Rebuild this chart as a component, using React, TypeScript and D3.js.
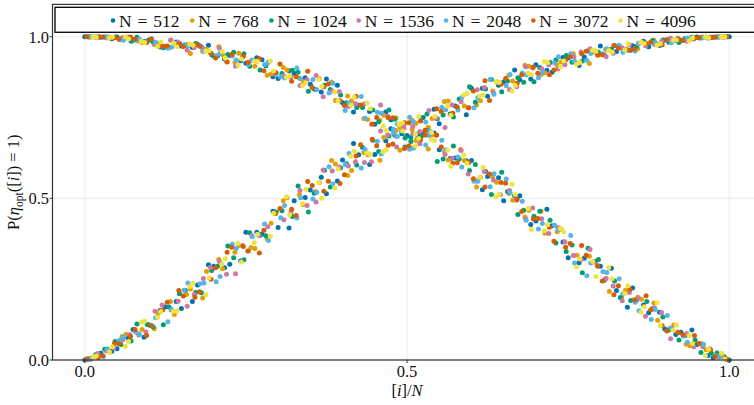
import React from "react";
import * as d3 from "d3";

// ---------- data ----------
const X_512 = [0.000, 0.025, 0.050, 0.075, 0.100, 0.125, 0.150, 0.175, 0.200, 0.225, 0.250, 0.275, 0.300, 0.325, 0.350, 0.375, 0.400, 0.425, 0.450, 0.475, 0.500, 0.525, 0.550, 0.575, 0.600, 0.625, 0.650, 0.675, 0.700, 0.725, 0.750, 0.775, 0.800, 0.825, 0.850, 0.875, 0.900, 0.925, 0.950, 0.975, 1.000];
const UP_512 = [0.000, 0.021, 0.035, 0.094, 0.108, 0.164, 0.159, 0.232, 0.290, 0.296, 0.395, 0.390, 0.410, 0.493, 0.526, 0.514, 0.619, 0.635, 0.636, 0.715, 0.694, 0.750, 0.731, 0.786, 0.841, 0.816, 0.860, 0.867, 0.913, 0.890, 0.934, 0.937, 0.971, 0.954, 0.972, 0.969, 0.989, 0.989, 0.999, 0.998, 1.000];
const DN_512 = [1.000, 0.998, 0.999, 0.989, 0.990, 0.969, 0.971, 0.977, 0.940, 0.942, 0.918, 0.929, 0.871, 0.887, 0.853, 0.869, 0.796, 0.788, 0.729, 0.743, 0.694, 0.699, 0.650, 0.625, 0.617, 0.568, 0.493, 0.508, 0.430, 0.415, 0.316, 0.315, 0.290, 0.215, 0.223, 0.146, 0.096, 0.086, 0.048, 0.007, 0.000];
const X_512B = [0.017, 0.042, 0.067, 0.092, 0.117, 0.142, 0.167, 0.192, 0.217, 0.242, 0.267, 0.292, 0.317, 0.342, 0.367, 0.392, 0.417, 0.442, 0.467, 0.492, 0.517, 0.542, 0.567, 0.592, 0.617, 0.642, 0.667, 0.692, 0.717, 0.742, 0.767, 0.792, 0.817, 0.842, 0.867, 0.892, 0.917, 0.942, 0.967, 0.992];
const UP_512B = [0.016, 0.027, 0.068, 0.070, 0.153, 0.181, 0.181, 0.295, 0.285, 0.306, 0.395, 0.460, 0.408, 0.503, 0.565, 0.554, 0.670, 0.605, 0.678, 0.708, 0.689, 0.776, 0.761, 0.759, 0.841, 0.850, 0.897, 0.869, 0.896, 0.936, 0.911, 0.954, 0.961, 0.959, 0.986, 0.973, 0.988, 0.998, 0.996, 0.999];
const DN_512B = [0.999, 0.994, 0.998, 0.985, 0.968, 0.984, 0.967, 0.974, 0.931, 0.926, 0.935, 0.876, 0.895, 0.873, 0.829, 0.850, 0.767, 0.769, 0.767, 0.700, 0.699, 0.702, 0.623, 0.616, 0.527, 0.564, 0.509, 0.419, 0.466, 0.365, 0.301, 0.305, 0.284, 0.163, 0.170, 0.148, 0.079, 0.093, 0.014, 0.010];

const X_768 = [0.014, 0.039, 0.064, 0.089, 0.114, 0.139, 0.164, 0.189, 0.214, 0.239, 0.264, 0.289, 0.314, 0.339, 0.364, 0.389, 0.414, 0.439, 0.464, 0.489, 0.514, 0.539, 0.564, 0.589, 0.614, 0.639, 0.664, 0.689, 0.714, 0.739, 0.764, 0.789, 0.814, 0.839, 0.864, 0.889, 0.914, 0.939, 0.964, 0.989];
const UP_768 = [0.011, 0.025, 0.080, 0.094, 0.145, 0.141, 0.220, 0.274, 0.282, 0.354, 0.345, 0.423, 0.502, 0.480, 0.549, 0.606, 0.586, 0.635, 0.688, 0.649, 0.732, 0.747, 0.801, 0.786, 0.802, 0.861, 0.863, 0.909, 0.888, 0.922, 0.917, 0.953, 0.958, 0.962, 0.984, 0.977, 0.990, 0.993, 0.999, 0.999];
const DN_768 = [0.999, 0.998, 0.998, 0.982, 0.979, 0.980, 0.948, 0.961, 0.944, 0.949, 0.909, 0.885, 0.897, 0.861, 0.870, 0.803, 0.802, 0.744, 0.757, 0.720, 0.679, 0.697, 0.619, 0.617, 0.565, 0.550, 0.494, 0.463, 0.392, 0.405, 0.324, 0.303, 0.212, 0.216, 0.188, 0.123, 0.108, 0.044, 0.032, 0.015];
const X_768B = [0.008, 0.033, 0.058, 0.083, 0.108, 0.133, 0.158, 0.183, 0.208, 0.233, 0.258, 0.283, 0.308, 0.333, 0.358, 0.383, 0.408, 0.433, 0.458, 0.483, 0.508, 0.533, 0.558, 0.583, 0.608, 0.633, 0.658, 0.683, 0.708, 0.733, 0.758, 0.783, 0.808, 0.833, 0.858, 0.883, 0.908, 0.933, 0.958, 0.983];
const UP_768B = [0.002, 0.030, 0.073, 0.082, 0.097, 0.181, 0.203, 0.192, 0.311, 0.333, 0.348, 0.374, 0.493, 0.511, 0.521, 0.617, 0.571, 0.642, 0.618, 0.710, 0.713, 0.720, 0.800, 0.805, 0.789, 0.832, 0.881, 0.912, 0.883, 0.912, 0.947, 0.917, 0.961, 0.966, 0.963, 0.989, 0.990, 0.988, 0.999, 0.999];
const DN_768B = [0.998, 0.999, 0.997, 0.987, 0.975, 0.989, 0.976, 0.955, 0.969, 0.921, 0.926, 0.881, 0.905, 0.872, 0.836, 0.860, 0.817, 0.747, 0.742, 0.749, 0.742, 0.653, 0.645, 0.651, 0.535, 0.567, 0.515, 0.442, 0.460, 0.397, 0.323, 0.321, 0.252, 0.196, 0.194, 0.176, 0.098, 0.049, 0.050, 0.016];

const X_1024 = [0.006, 0.031, 0.056, 0.081, 0.106, 0.131, 0.156, 0.181, 0.206, 0.231, 0.256, 0.281, 0.306, 0.331, 0.356, 0.381, 0.406, 0.431, 0.456, 0.481, 0.506, 0.531, 0.556, 0.581, 0.606, 0.631, 0.656, 0.681, 0.706, 0.731, 0.756, 0.781, 0.806, 0.831, 0.856, 0.881, 0.906, 0.931, 0.956, 0.981];
const UP_1024 = [0.004, 0.033, 0.048, 0.111, 0.103, 0.164, 0.216, 0.208, 0.290, 0.316, 0.394, 0.384, 0.462, 0.538, 0.516, 0.535, 0.607, 0.657, 0.645, 0.695, 0.676, 0.761, 0.758, 0.807, 0.797, 0.868, 0.863, 0.859, 0.905, 0.928, 0.921, 0.957, 0.944, 0.966, 0.970, 0.988, 0.983, 0.994, 0.996, 0.999];
const DN_1024 = [1.000, 0.999, 0.992, 0.998, 0.984, 0.967, 0.972, 0.968, 0.940, 0.952, 0.909, 0.910, 0.886, 0.890, 0.838, 0.837, 0.796, 0.781, 0.737, 0.745, 0.688, 0.711, 0.622, 0.622, 0.605, 0.512, 0.521, 0.463, 0.460, 0.362, 0.356, 0.346, 0.247, 0.193, 0.185, 0.159, 0.093, 0.075, 0.023, 0.022];
const X_1024B = [0.022, 0.047, 0.072, 0.097, 0.122, 0.147, 0.172, 0.197, 0.222, 0.247, 0.272, 0.297, 0.322, 0.347, 0.372, 0.397, 0.422, 0.447, 0.472, 0.497, 0.522, 0.547, 0.572, 0.597, 0.622, 0.647, 0.672, 0.697, 0.722, 0.747, 0.772, 0.797, 0.822, 0.847, 0.872, 0.897, 0.922, 0.947, 0.972, 0.997];
const UP_1024B = [0.018, 0.057, 0.059, 0.110, 0.109, 0.205, 0.209, 0.277, 0.353, 0.310, 0.386, 0.458, 0.444, 0.458, 0.587, 0.595, 0.603, 0.680, 0.693, 0.659, 0.748, 0.746, 0.752, 0.845, 0.838, 0.830, 0.873, 0.861, 0.920, 0.942, 0.925, 0.952, 0.973, 0.958, 0.972, 0.990, 0.982, 0.997, 0.998, 1.000];
const DN_1024B = [1.000, 0.999, 0.986, 0.987, 0.966, 0.980, 0.979, 0.944, 0.945, 0.947, 0.897, 0.888, 0.896, 0.831, 0.850, 0.820, 0.781, 0.773, 0.773, 0.687, 0.691, 0.614, 0.662, 0.586, 0.583, 0.581, 0.450, 0.445, 0.432, 0.336, 0.270, 0.311, 0.244, 0.184, 0.181, 0.133, 0.062, 0.062, 0.021, 0.001];

const X_1536 = [0.020, 0.045, 0.070, 0.095, 0.120, 0.145, 0.170, 0.195, 0.220, 0.245, 0.270, 0.295, 0.320, 0.345, 0.370, 0.395, 0.420, 0.445, 0.470, 0.495, 0.520, 0.545, 0.570, 0.595, 0.620, 0.645, 0.670, 0.695, 0.720, 0.745, 0.770, 0.795, 0.820, 0.845, 0.870, 0.895, 0.920, 0.945, 0.970, 0.995];
const UP_1536 = [0.020, 0.037, 0.079, 0.087, 0.170, 0.182, 0.203, 0.286, 0.265, 0.354, 0.386, 0.454, 0.458, 0.478, 0.588, 0.597, 0.613, 0.613, 0.696, 0.726, 0.707, 0.748, 0.789, 0.780, 0.843, 0.855, 0.845, 0.903, 0.913, 0.913, 0.953, 0.945, 0.949, 0.975, 0.972, 0.986, 0.995, 0.993, 0.998, 1.000];
const DN_1536 = [0.999, 0.997, 0.995, 0.984, 0.971, 0.983, 0.967, 0.950, 0.924, 0.939, 0.929, 0.885, 0.876, 0.867, 0.814, 0.830, 0.793, 0.729, 0.754, 0.717, 0.669, 0.695, 0.624, 0.575, 0.583, 0.511, 0.494, 0.470, 0.391, 0.366, 0.311, 0.294, 0.229, 0.209, 0.135, 0.147, 0.087, 0.041, 0.035, 0.002];
const X_1536B = [0.009, 0.034, 0.059, 0.084, 0.109, 0.134, 0.159, 0.184, 0.209, 0.234, 0.259, 0.284, 0.309, 0.334, 0.359, 0.384, 0.409, 0.434, 0.459, 0.484, 0.509, 0.534, 0.559, 0.584, 0.609, 0.634, 0.659, 0.684, 0.709, 0.734, 0.759, 0.784, 0.809, 0.834, 0.859, 0.884, 0.909, 0.934, 0.959, 0.984];
const UP_1536B = [0.002, 0.028, 0.063, 0.077, 0.151, 0.155, 0.166, 0.252, 0.305, 0.267, 0.385, 0.412, 0.434, 0.524, 0.489, 0.585, 0.600, 0.611, 0.708, 0.659, 0.722, 0.772, 0.719, 0.799, 0.836, 0.827, 0.837, 0.907, 0.901, 0.900, 0.938, 0.963, 0.938, 0.964, 0.980, 0.976, 0.995, 0.986, 0.998, 0.999];
const DN_1536B = [1.000, 0.996, 0.997, 0.990, 0.977, 0.990, 0.958, 0.963, 0.964, 0.909, 0.926, 0.920, 0.879, 0.849, 0.880, 0.832, 0.784, 0.793, 0.789, 0.691, 0.700, 0.695, 0.636, 0.648, 0.554, 0.557, 0.524, 0.436, 0.437, 0.410, 0.323, 0.342, 0.252, 0.183, 0.192, 0.162, 0.066, 0.082, 0.041, 0.010];

const X_2048 = [0.010, 0.035, 0.060, 0.085, 0.110, 0.135, 0.160, 0.185, 0.210, 0.235, 0.260, 0.285, 0.310, 0.335, 0.360, 0.385, 0.410, 0.435, 0.460, 0.485, 0.510, 0.535, 0.560, 0.585, 0.610, 0.635, 0.660, 0.685, 0.710, 0.735, 0.760, 0.785, 0.810, 0.835, 0.860, 0.885, 0.910, 0.935, 0.960, 0.985];
const UP_2048 = [0.006, 0.035, 0.072, 0.079, 0.131, 0.156, 0.238, 0.238, 0.258, 0.346, 0.381, 0.370, 0.478, 0.502, 0.518, 0.545, 0.639, 0.651, 0.637, 0.691, 0.737, 0.708, 0.774, 0.812, 0.811, 0.822, 0.883, 0.882, 0.888, 0.938, 0.924, 0.948, 0.963, 0.952, 0.978, 0.982, 0.981, 0.996, 0.997, 0.999];
const DN_2048 = [1.000, 0.999, 0.989, 0.992, 0.983, 0.968, 0.972, 0.955, 0.949, 0.928, 0.928, 0.922, 0.872, 0.870, 0.837, 0.856, 0.794, 0.748, 0.763, 0.730, 0.655, 0.694, 0.650, 0.597, 0.553, 0.576, 0.517, 0.432, 0.422, 0.402, 0.300, 0.300, 0.271, 0.204, 0.152, 0.156, 0.099, 0.055, 0.048, 0.009];
const X_2048B = [0.004, 0.029, 0.054, 0.079, 0.104, 0.129, 0.154, 0.179, 0.204, 0.229, 0.254, 0.279, 0.304, 0.329, 0.354, 0.379, 0.404, 0.429, 0.454, 0.479, 0.504, 0.529, 0.554, 0.579, 0.604, 0.629, 0.654, 0.679, 0.704, 0.729, 0.754, 0.779, 0.804, 0.829, 0.854, 0.879, 0.904, 0.929, 0.954, 0.979];
const UP_2048B = [0.001, 0.011, 0.061, 0.087, 0.107, 0.118, 0.216, 0.236, 0.242, 0.358, 0.337, 0.421, 0.440, 0.439, 0.498, 0.598, 0.605, 0.594, 0.677, 0.713, 0.652, 0.736, 0.782, 0.773, 0.780, 0.868, 0.848, 0.888, 0.873, 0.919, 0.947, 0.927, 0.947, 0.974, 0.956, 0.982, 0.991, 0.988, 0.996, 0.999];
const DN_2048B = [1.000, 0.999, 0.991, 0.989, 0.994, 0.964, 0.975, 0.972, 0.942, 0.940, 0.914, 0.914, 0.876, 0.903, 0.868, 0.826, 0.772, 0.815, 0.766, 0.703, 0.751, 0.665, 0.680, 0.628, 0.553, 0.536, 0.560, 0.491, 0.405, 0.417, 0.385, 0.261, 0.273, 0.251, 0.179, 0.125, 0.138, 0.074, 0.050, 0.014];

const X_3072 = [0.003, 0.028, 0.053, 0.078, 0.103, 0.128, 0.153, 0.178, 0.203, 0.228, 0.253, 0.278, 0.303, 0.328, 0.353, 0.378, 0.403, 0.428, 0.453, 0.478, 0.503, 0.528, 0.553, 0.578, 0.603, 0.628, 0.653, 0.678, 0.703, 0.728, 0.753, 0.778, 0.803, 0.828, 0.853, 0.878, 0.903, 0.928, 0.953, 0.978];
const UP_3072 = [0.003, 0.013, 0.050, 0.094, 0.106, 0.179, 0.198, 0.211, 0.285, 0.349, 0.337, 0.401, 0.469, 0.447, 0.540, 0.553, 0.573, 0.666, 0.663, 0.668, 0.734, 0.711, 0.769, 0.783, 0.832, 0.803, 0.871, 0.882, 0.887, 0.897, 0.938, 0.955, 0.944, 0.964, 0.963, 0.983, 0.991, 0.988, 0.997, 0.999];
const DN_3072 = [1.000, 0.999, 0.993, 0.993, 0.993, 0.971, 0.970, 0.971, 0.934, 0.945, 0.920, 0.895, 0.916, 0.876, 0.843, 0.854, 0.787, 0.789, 0.750, 0.749, 0.662, 0.696, 0.659, 0.610, 0.561, 0.575, 0.547, 0.459, 0.438, 0.367, 0.360, 0.324, 0.244, 0.230, 0.186, 0.155, 0.090, 0.078, 0.051, 0.011];
const X_3072B = [0.021, 0.046, 0.071, 0.096, 0.121, 0.146, 0.171, 0.196, 0.221, 0.246, 0.271, 0.296, 0.321, 0.346, 0.371, 0.396, 0.421, 0.446, 0.471, 0.496, 0.521, 0.546, 0.571, 0.596, 0.621, 0.646, 0.671, 0.696, 0.721, 0.746, 0.771, 0.796, 0.821, 0.846, 0.871, 0.896, 0.921, 0.946, 0.971, 0.996];
const UP_3072B = [0.008, 0.050, 0.073, 0.076, 0.155, 0.215, 0.194, 0.250, 0.333, 0.351, 0.331, 0.453, 0.466, 0.552, 0.522, 0.546, 0.631, 0.683, 0.664, 0.654, 0.739, 0.777, 0.763, 0.780, 0.864, 0.853, 0.856, 0.906, 0.882, 0.928, 0.947, 0.943, 0.972, 0.958, 0.979, 0.975, 0.993, 0.996, 0.997, 1.000];
const DN_3072B = [0.999, 0.997, 0.999, 0.982, 0.971, 0.977, 0.977, 0.949, 0.922, 0.939, 0.932, 0.889, 0.862, 0.893, 0.845, 0.802, 0.815, 0.730, 0.749, 0.734, 0.681, 0.696, 0.609, 0.611, 0.535, 0.549, 0.497, 0.436, 0.411, 0.349, 0.354, 0.290, 0.202, 0.219, 0.199, 0.106, 0.085, 0.076, 0.031, 0.002];

const X_4096 = [0.018, 0.043, 0.068, 0.093, 0.118, 0.143, 0.168, 0.193, 0.218, 0.243, 0.268, 0.293, 0.318, 0.343, 0.368, 0.393, 0.418, 0.443, 0.468, 0.493, 0.518, 0.543, 0.568, 0.593, 0.618, 0.643, 0.668, 0.693, 0.718, 0.743, 0.768, 0.793, 0.818, 0.843, 0.868, 0.893, 0.918, 0.943, 0.968, 0.993];
const UP_4096 = [0.012, 0.041, 0.057, 0.120, 0.150, 0.152, 0.237, 0.254, 0.313, 0.303, 0.389, 0.454, 0.449, 0.528, 0.500, 0.591, 0.646, 0.636, 0.650, 0.708, 0.753, 0.753, 0.757, 0.824, 0.820, 0.859, 0.849, 0.882, 0.920, 0.925, 0.920, 0.955, 0.953, 0.978, 0.979, 0.978, 0.990, 0.997, 0.997, 1.000];
const DN_4096 = [0.999, 0.999, 0.994, 0.982, 0.984, 0.969, 0.974, 0.957, 0.934, 0.931, 0.923, 0.894, 0.879, 0.858, 0.847, 0.801, 0.813, 0.777, 0.711, 0.733, 0.685, 0.679, 0.599, 0.609, 0.596, 0.512, 0.512, 0.404, 0.418, 0.397, 0.313, 0.258, 0.251, 0.230, 0.165, 0.107, 0.108, 0.051, 0.033, 0.003];
const X_4096B = [0.013, 0.038, 0.063, 0.088, 0.113, 0.138, 0.163, 0.188, 0.213, 0.238, 0.263, 0.288, 0.313, 0.338, 0.363, 0.388, 0.413, 0.438, 0.463, 0.488, 0.513, 0.538, 0.563, 0.588, 0.613, 0.638, 0.663, 0.688, 0.713, 0.738, 0.763, 0.788, 0.813, 0.838, 0.863, 0.888, 0.913, 0.938, 0.963, 0.988];
const UP_4096B = [0.011, 0.025, 0.042, 0.117, 0.132, 0.151, 0.227, 0.202, 0.297, 0.361, 0.363, 0.383, 0.505, 0.484, 0.549, 0.532, 0.630, 0.640, 0.644, 0.731, 0.699, 0.704, 0.785, 0.820, 0.817, 0.859, 0.832, 0.888, 0.923, 0.906, 0.915, 0.958, 0.957, 0.959, 0.982, 0.974, 0.989, 0.987, 0.998, 0.999];
const DN_4096B = [1.000, 0.996, 0.999, 0.986, 0.970, 0.980, 0.977, 0.956, 0.954, 0.912, 0.924, 0.925, 0.875, 0.849, 0.868, 0.829, 0.788, 0.796, 0.724, 0.728, 0.662, 0.682, 0.649, 0.634, 0.565, 0.506, 0.544, 0.469, 0.400, 0.407, 0.288, 0.305, 0.286, 0.206, 0.148, 0.177, 0.092, 0.076, 0.014, 0.021];

const N_VALUES = ["512", "768", "1024", "1536", "2048", "3072", "4096"];
const COLORS = ["#0072B2", "#E69F00", "#009E73", "#CC79A7", "#56B4E9", "#D55E00", "#F0E442"];
const XS = [[X_512, X_512B], [X_768, X_768B], [X_1024, X_1024B], [X_1536, X_1536B], [X_2048, X_2048B], [X_3072, X_3072B], [X_4096, X_4096B]];
const UPS = [[UP_512, UP_512B], [UP_768, UP_768B], [UP_1024, UP_1024B], [UP_1536, UP_1536B], [UP_2048, UP_2048B], [UP_3072, UP_3072B], [UP_4096, UP_4096B]];
const DNS = [[DN_512, DN_512B], [DN_768, DN_768B], [DN_1024, DN_1024B], [DN_1536, DN_1536B], [DN_2048, DN_2048B], [DN_3072, DN_3072B], [DN_4096, DN_4096B]];
const X_TICKS = [0, 0.5, 1];
const Y_TICKS = [0, 0.5, 1];

// ---------- layout ----------
const W = 754;
const H = 405;
const LEFT = 52.5;
const RIGHT = 761.5;
const TOP = 4.4;
const BOTTOM = 360;
const FONT = "'Liberation Serif', 'Times New Roman', serif";
const FS = 16.5;

export default function App() {
  const x = d3.scaleLinear().domain([-0.05, 1.05]).range([LEFT, RIGHT]);
  const y = d3.scaleLinear().domain([0, 1.1]).range([BOTTOM, TOP]);

  const series = N_VALUES.map((n, i) => {
    const pts: number[][] = [];
    XS[i].forEach((xsArr, k) => {
      xsArr.forEach((xv, j) => pts.push([xv, UPS[i][k][j]]));
      xsArr.forEach((xv, j) => pts.push([xv, DNS[i][k][j]]));
    });
    return { label: `N = ${n}`, color: COLORS[i], pts };
  });

  // legend layout
  let lx = 113;
  const legendItems = series.map((s) => {
    const item = { ...s, mx: lx, tx: lx + 6 };
    const w = s.label.length <= 7 ? 62.9 : 71;
    lx = lx + 6 + w + 10.3;
    return item;
  });

  return (
    <svg
      width={W}
      height={H}
      style={{ position: "absolute", left: 0, top: 0, background: "#fff" }}
      fontFamily={FONT}
    >
      <rect x={0} y={0} width={W} height={H} fill="#fff" />
      {X_TICKS.map((t) => (
        <line key={"gx" + t} x1={x(t)} x2={x(t)} y1={TOP} y2={BOTTOM} stroke="rgba(0,0,0,0.08)" strokeWidth={1} />
      ))}
      {Y_TICKS.map((t) => (
        <line key={"gy" + t} x1={LEFT} x2={RIGHT} y1={y(t)} y2={y(t)} stroke="rgba(0,0,0,0.08)" strokeWidth={1} />
      ))}
      <g>
        {series.map((s, i) => (
          <g key={"s" + i} fill={s.color}>
            {s.pts.map((p, j) => (
              <circle key={j} cx={x(p[0])} cy={y(p[1])} r={2.5} />
            ))}
          </g>
        ))}
      </g>
      <rect x={LEFT} y={TOP} width={RIGHT - LEFT} height={BOTTOM - TOP} fill="none" stroke="#333" strokeWidth={1.2} />
      {X_TICKS.map((t) => (
        <g key={"xt" + t}>
          <line x1={x(t)} x2={x(t)} y1={BOTTOM} y2={BOTTOM + 3} stroke="#333" strokeWidth={1} />
          <text x={x(t)} y={377} textAnchor="middle" fontSize={FS} fill="#111">
            {d3.format(".1f")(t)}
          </text>
        </g>
      ))}
      {Y_TICKS.map((t) => (
        <g key={"yt" + t}>
          <line x1={LEFT - 3} x2={LEFT} y1={y(t)} y2={y(t)} stroke="#333" strokeWidth={1} />
          <text x={LEFT - 3.5} y={y(t)} dy="0.35em" textAnchor="end" fontSize={FS} fill="#111">
            {d3.format(".1f")(t)}
          </text>
        </g>
      ))}
      <text x={(LEFT + RIGHT) / 2} y={396} textAnchor="middle" fontSize={FS} fill="#111">
        [<tspan fontStyle="italic">i</tspan>]/<tspan fontStyle="italic">N</tspan>
      </text>
      <text
        transform={`translate(19,${(TOP + BOTTOM) / 2}) rotate(-90)`}
        textAnchor="middle"
        fontSize={FS}
        fill="#111"
      >
        P(<tspan fontStyle="italic">η</tspan>
        <tspan fontSize={11.5} dy={4}>opt</tspan>
        <tspan dy={-4}>([</tspan>
        <tspan fontStyle="italic">i</tspan>]) = 1)
      </text>
      <rect x={55} y={7.3} width={W} height={25} fill="#fff" stroke="#111" strokeWidth={1.4} />
      {legendItems.map((it, i) => (
        <g key={"lg" + i}>
          <circle cx={it.mx} cy={20.5} r={2.3} fill={it.color} />
          <text x={it.tx} y={26.5} fontSize={17.5} fill="#111" wordSpacing={1.5}>
            {it.label}
          </text>
        </g>
      ))}
    </svg>
  );
}
